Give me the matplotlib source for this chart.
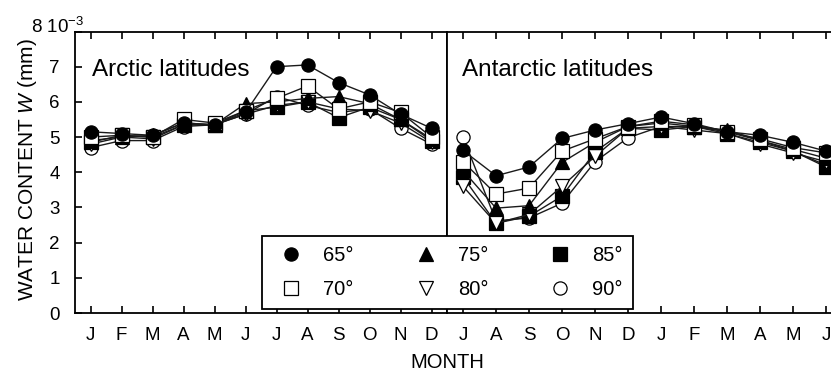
import matplotlib
matplotlib.use("Agg")
import matplotlib.pyplot as plt

plt.rcParams['font.family'] = ['Liberation Sans', 'DejaVu Sans']
plt.rcParams['mathtext.fontset'] = 'custom'
plt.rcParams['mathtext.rm'] = 'Liberation Sans'
plt.rcParams['mathtext.it'] = 'Liberation Sans:italic'

arctic_months = ['J', 'F', 'M', 'A', 'M', 'J', 'J', 'A', 'S', 'O', 'N', 'D']
antarctic_months = ['J', 'A', 'S', 'O', 'N', 'D', 'J', 'F', 'M', 'A', 'M', 'J']
labels = ['65°', '70°', '75°', '80°', '85°', '90°']

# water content, units of 1e-3 mm
arctic_65 = [5.15, 5.1, 5.05, 5.4, 5.35, 5.7, 7.0, 7.05, 6.55, 6.2, 5.65, 5.25]
arctic_70 = [5.0, 5.05, 5.0, 5.5, 5.4, 5.75, 6.1, 6.45, 5.8, 6.0, 5.7, 5.0]
arctic_75 = [4.9, 5.0, 5.05, 5.4, 5.35, 5.95, 6.0, 6.1, 6.15, 5.95, 5.5, 4.95]
arctic_80 = [4.8, 5.0, 4.95, 5.35, 5.35, 5.65, 5.9, 6.0, 5.8, 5.75, 5.4, 4.85]
arctic_85 = [4.85, 5.05, 5.0, 5.35, 5.35, 5.75, 5.85, 6.0, 5.55, 5.85, 5.5, 4.9]
arctic_90 = [4.7, 4.9, 4.9, 5.3, 5.35, 5.65, 6.15, 5.9, 5.7, 5.8, 5.25, 4.8]

antarctic_65 = [4.62, 3.9, 4.15, 4.96, 5.2, 5.38, 5.57, 5.38, 5.15, 5.05, 4.85, 4.6]
antarctic_70 = [4.3, 3.38, 3.55, 4.6, 4.95, 5.3, 5.45, 5.35, 5.15, 4.95, 4.7, 4.55]
antarctic_75 = [4.05, 2.98, 3.05, 4.28, 4.85, 5.3, 5.4, 5.3, 5.2, 4.9, 4.65, 4.4]
antarctic_80 = [3.6, 2.55, 2.8, 3.6, 4.45, 5.25, 5.3, 5.2, 5.1, 4.8, 4.55, 4.3]
antarctic_85 = [3.87, 2.55, 2.75, 3.32, 4.58, 5.25, 5.2, 5.3, 5.1, 4.85, 4.6, 4.15]
antarctic_90 = [5.0, 2.62, 2.7, 3.12, 4.3, 4.98, 5.3, 5.3, 5.15, 4.9, 4.6, 4.2]

arctic = [arctic_65, arctic_70, arctic_75, arctic_80, arctic_85, arctic_90]
antarctic = [antarctic_65, antarctic_70, antarctic_75, antarctic_80, antarctic_85, antarctic_90]
markers = ['o', 's', '^', 'v', 's', 'o']
filled = [True, False, True, False, True, False]

fig = plt.figure(figsize=(8.31, 3.80), dpi=100)
ax1 = fig.add_axes([75 / 831, 67 / 380, 372 / 831, 281.5 / 380])
ax2 = fig.add_axes([447 / 831, 67 / 380, 384 / 831, 281.5 / 380])

handles = []
for ax, data, months in [(ax1, arctic, arctic_months), (ax2, antarctic, antarctic_months)]:
    x = list(range(len(months)))
    for i in range(5, -1, -1):
        face = 'black' if filled[i] else 'white'
        h, = ax.plot(x, data[i], color='#1a1a1a', lw=1.0, marker=markers[i],
                     ms=9.5, mfc=face, mec='black', mew=0.9, zorder=3 + (5 - i),
                     label=labels[i])
        if ax is ax1:
            handles.insert(0, h)
    ax.set_xticks(x)
    ax.set_xticklabels(months)
    ax.set_ylim(0, 8)
    ax.tick_params(axis='x', direction='in', length=5, width=1.2, top=True,
                   labelsize=13.5, pad=10)
    for s in ax.spines.values():
        s.set_linewidth(1.3)

ax1.set_xlim(-0.5, 11.5)
ax2.set_xlim(-0.485, 11.15)
ax1.set_yticks(range(9))
ax1.set_yticklabels([str(v) for v in range(8)] + [''])
ax1.tick_params(axis='y', direction='in', length=5, width=1.2, labelsize=13.5, pad=11)
ax2.set_yticks([])
ax2.spines['right'].set_visible(False)

ax1.text(0.045, 6.9, 'Arctic latitudes', transform=ax1.get_yaxis_transform(),
         fontsize=17.5, va='center', ha='left')
ax2.text(0.04, 6.9, 'Antarctic latitudes', transform=ax2.get_yaxis_transform(),
         fontsize=17.5, va='center', ha='left')

fig.text(28 / 831, 1 - 170 / 380, 'WATER CONTENT $\\mathit{W}$ (mm)', fontsize=15,
         rotation=90, ha='center', va='center')
fig.text(447 / 831, 1 - 363 / 380, 'MONTH', fontsize=14.5, ha='center', va='center')
fig.text(31 / 831, 1 - 27 / 380, '8 10$^{-3}$', fontsize=13.5, ha='left', va='center')

leg = fig.legend(handles=handles, labels=labels, ncol=3, loc='upper left',
                 bbox_to_anchor=(262 / 831, 1 - 240 / 380, 371 / 831, 0.01),
                 mode='expand', borderaxespad=0, fancybox=False, framealpha=1,
                 edgecolor='black', fontsize=14.5, handlelength=1.9,
                 handletextpad=0.64, columnspacing=1.0, borderpad=0.5,
                 labelspacing=0.72)
leg.get_frame().set_linewidth(1.3)
for h in leg.legend_handles:
    h.set_linestyle('None')

fig.savefig('out.png', dpi=100)
